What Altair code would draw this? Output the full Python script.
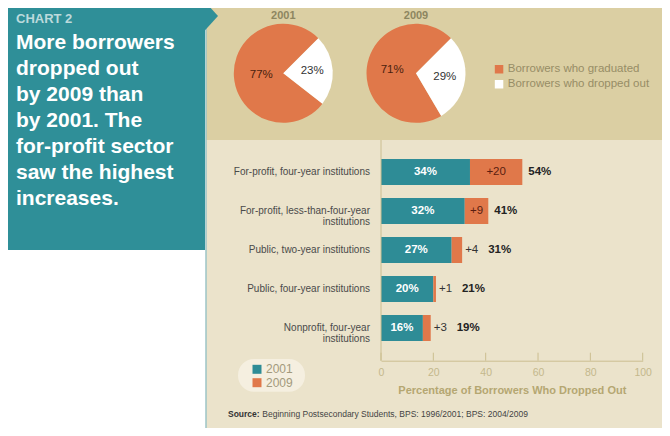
import math
import altair as alt
import pandas as pd

FONT = "Liberation Sans"

# ---------------- data ----------------
chart_tag = "CHART 2"
title_lines = ["More borrowers", "dropped out", "by 2009 than", "by 2001. The",
               "for-profit sector", "saw the highest", "increases."]

pie_years = ["2001", "2009"]
pie_status = ["Borrowers who graduated", "Borrowers who dropped out"]
pie_share_2001 = [77, 23]
pie_share_2009 = [71, 29]

categories = ["For-profit, four-year institutions",
              "For-profit, less-than-four-year\ninstitutions",
              "Public, two-year institutions",
              "Public, four-year institutions",
              "Nonprofit, four-year\ninstitutions"]
dropout_2001 = [34, 32, 27, 20, 16]
increase_to_2009 = [20, 9, 4, 1, 3]
dropout_2009 = [54, 41, 31, 21, 19]
bar_years = ["2001", "2009"]
x_ticks = [0, 20, 40, 60, 80, 100]
x_title = "Percentage of Borrowers Who Dropped Out"
source_label = "Source:"
source_text = "Beginning Postsecondary Students, BPS: 1996/2001; BPS: 2004/2009"

# ---------------- colours ----------------
teal = "#2f8f98"
bar_teal = "#2e8c96"
orange = "#e0784a"
tan_top = "#dbcfa3"
tan_bottom = "#ebe3cb"
pill = "#f5efe0"
axis_c = "#cbbe90"

# ---------------- tables ----------------
one = pd.DataFrame({"k": [0]})
pie_rows = []
for yr, shares in zip(pie_years, [pie_share_2001, pie_share_2009]):
    for st, v in zip(pie_status, shares):
        pie_rows.append({"year": yr, "status": st, "value": v,
                         "ord": 0 if st == pie_status[1] else 1,
                         "lbl": f"{v}%"})
pie_df = pd.DataFrame(pie_rows)

bar_long = pd.DataFrame(
    [{"category": c, "year": bar_years[0], "value": b} for c, b in zip(categories, dropout_2001)]
    + [{"category": c, "year": bar_years[1], "value": d} for c, d in zip(categories, increase_to_2009)]
)
bar_wide = pd.DataFrame({"category": categories, "base": dropout_2001,
                         "inc": increase_to_2009, "total": dropout_2009})
ticks_df = pd.DataFrame({"t": x_ticks})
zero_df = pd.DataFrame({"t": [x_ticks[0]]})

# ---------------- scales / axes ----------------
x_scale = alt.Scale(domain=[0, 100], range=[373, 634.7], nice=False)
y_scale = alt.Scale(domain=categories, range=[144.5, 339.5], paddingInner=0.333, paddingOuter=0.1667)
x_axis = alt.Axis(values=x_ticks, ticks=False, grid=False, domainColor=axis_c, domainWidth=1,
                  labelColor="#c4b88c", labelFont=FONT, labelFontSize=10.5, labelPadding=7,
                  labelFlush=False, title=x_title, titleFont=FONT, titleFontSize=11,
                  titleFontWeight="bold", titleColor="#b5a772", titlePadding=6, offset=-67.3,
                  zindex=1)
theta_scale = alt.Scale(domain=[0, 100], range=[math.pi / 4, math.pi / 4 + 2 * math.pi])
pie_color_scale = alt.Scale(domain=pie_status, range=[orange, "#ffffff"])
bar_color_scale = alt.Scale(domain=bar_years, range=[bar_teal, orange])
pie_legend = alt.Legend(orient="none", legendX=485.3, legendY=55.5, title=None, symbolType="square",
                        symbolSize=72, symbolStrokeWidth=0, symbolOpacity=1, labelFont=FONT,
                        labelFontSize=11.5, labelColor="#978d66", labelOffset=3, rowPadding=2, padding=0)
bar_legend = alt.Legend(orient="none", legendX=243, legendY=355.3, title=None, symbolType="square",
                        symbolSize=81, symbolStrokeWidth=0, symbolOpacity=1, labelFont=FONT,
                        labelFontSize=12, labelColor="#a39a7c", labelOffset=3, rowPadding=1.4, padding=0)

def X(field):
    return alt.X(field, scale=x_scale, axis=x_axis)

def Y():
    return alt.Y("category:N", scale=y_scale, axis=None)

# ---------------- backgrounds ----------------
def rect(x, x2, y, y2, color, **kw):
    return alt.Chart(one).mark_rect(color=color, **kw).encode(
        x=alt.value(x), x2=alt.value(x2), y=alt.value(y), y2=alt.value(y2))

bg_top = rect(198, 654, 0, 132, tan_top)
bg_bottom = rect(198, 654, 132, 420, tan_bottom)
bg_teal = rect(0, 197, 0, 242, teal)
edge = alt.Chart(one).mark_rule(color="#9cc5c6", strokeWidth=1.5).encode(
    x=alt.value(198), y=alt.value(0), y2=alt.value(420))
arrow = alt.Chart(one).mark_point(shape="M-0.2,-1L0.71,0L-0.2,1Z", size=961, filled=True,
                                  color=teal, opacity=1, strokeWidth=0).encode(
    x=alt.value(199), y=alt.value(8))
pill_rect = rect(230, 297, 351, 383.7, pill, cornerRadius=16)

# ---------------- left text ----------------
tag = alt.Chart(one).mark_text(text=chart_tag, align="left", baseline="alphabetic", font=FONT,
                               fontSize=13, fontWeight="bold", color="#bcdadc").encode(
    x=alt.value(8), y=alt.value(15.3))
title = alt.Chart(one).mark_text(text="\n".join(title_lines), lineBreak="\n", align="left",
                                 baseline="top", font=FONT, fontSize=21, fontWeight="bold",
                                 color="white", lineHeight=26.1).encode(
    x=alt.value(8), y=alt.value(23.7))

# ---------------- pies ----------------
cy = 65.3
def pie(year, cx, r_grad, r_drop):
    base = alt.Chart(pie_df).transform_filter(alt.datum.year == year)
    theta = alt.Theta("value:Q", stack=True, scale=theta_scale)
    arc = base.mark_arc(outerRadius=49.5).encode(
        theta=theta,
        color=alt.Color("status:N", scale=pie_color_scale, legend=pie_legend),
        order=alt.Order("ord:Q"),
        x=alt.value(cx), y=alt.value(cy))
    out = [arc]
    for st, r, col in [(pie_status[0], r_grad, "#4a1f0e"), (pie_status[1], r_drop, "#333333")]:
        out.append(base.mark_text(radius=r, font=FONT, fontSize=11.5, baseline="middle", color=col).encode(
            theta=theta, order=alt.Order("ord:Q"),
            text=alt.condition(alt.datum.status == st, "lbl:N", alt.value("")),
            x=alt.value(cx), y=alt.value(cy)))
    out.append(alt.Chart(one).mark_text(text=year, font=FONT, fontSize=11, fontWeight="bold",
                                        color="#8d8660", baseline="middle").encode(
        x=alt.value(cx), y=alt.value(8)))
    return out

pies = alt.layer(*pie(pie_years[0], 275.3, 22, 29), *pie(pie_years[1], 408, 24, 29))

# ---------------- bars ----------------
bars = alt.Chart(bar_long).mark_bar().encode(
    x=alt.X("value:Q", stack="zero", scale=x_scale, axis=x_axis),
    y=Y(),
    color=alt.Color("year:N", scale=bar_color_scale, legend=bar_legend),
    order=alt.Order("year:N", sort="ascending"))
tick_rules = alt.Chart(ticks_df).mark_rule(color=axis_c, strokeWidth=1).encode(
    x=X("t:Q"), y=alt.value(344.7), y2=alt.value(352.7))
zero_rule = alt.Chart(zero_df).mark_rule(color=axis_c, strokeWidth=1).encode(
    x=X("t:Q"), y=alt.value(132), y2=alt.value(352.7))

lb = alt.Chart(bar_wide)
base_lbl = lb.transform_calculate(mid="datum.base / 2", t="datum.base + '%'").mark_text(
    font=FONT, fontSize=11.5, fontWeight="bold", color="white", baseline="middle").encode(
    x=X("mid:Q"), y=Y(), text="t:N")
inc_in = lb.transform_filter("datum.inc >= 5").transform_calculate(
    mid="datum.base + datum.inc / 2", t="'+' + datum.inc").mark_text(
    font=FONT, fontSize=11.5, color="#5a1e10", baseline="middle").encode(
    x=X("mid:Q"), y=Y(), text="t:N")
inc_out = lb.transform_filter("datum.inc < 5").transform_calculate(t="'+' + datum.inc").mark_text(
    font=FONT, fontSize=11.5, color="#333333", baseline="middle", align="left", dx=3).encode(
    x=X("total:Q"), y=Y(), text="t:N")
tot_in = lb.transform_filter("datum.inc >= 5").transform_calculate(t="datum.total + '%'").mark_text(
    font=FONT, fontSize=11.5, fontWeight="bold", color="#222222", baseline="middle", align="left", dx=6).encode(
    x=X("total:Q"), y=Y(), text="t:N")
tot_out = lb.transform_filter("datum.inc < 5").transform_calculate(t="datum.total + '%'").mark_text(
    font=FONT, fontSize=11.5, fontWeight="bold", color="#222222", baseline="middle", align="left", dx=26).encode(
    x=X("total:Q"), y=Y(), text="t:N")
cat_lbl = lb.mark_text(font=FONT, fontSize=10, color="#4a4a4a", align="right", baseline="middle",
                       lineBreak="\n", lineHeight=11).encode(
    x=alt.value(362), y=Y(), text="category:N")

bar_layer = alt.layer(bars, tick_rules, zero_rule, base_lbl, inc_in, inc_out, tot_in, tot_out, cat_lbl)

# ---------------- source ----------------
src1 = alt.Chart(one).mark_text(text=source_label, font=FONT, fontSize=8.5, fontWeight="bold",
                                color="#333333", align="left", baseline="middle").encode(
    x=alt.value(220), y=alt.value(406.3))
src2 = alt.Chart(one).mark_text(text=source_text, font=FONT, fontSize=8.5,
                                color="#444444", align="left", baseline="middle").encode(
    x=alt.value(254.3), y=alt.value(406.3))

chart = alt.layer(
    bg_top, bg_bottom, bg_teal, edge, arrow, pill_rect, tag, title,
    pies, bar_layer, src1, src2
).resolve_scale(color="independent").properties(
    width=654, height=420, padding=0,
    autosize=alt.AutoSizeParams(type="none"), background="white"
).configure_view(stroke=None)

chart.save("out.html", embed_options={"renderer": "svg", "actions": False})
